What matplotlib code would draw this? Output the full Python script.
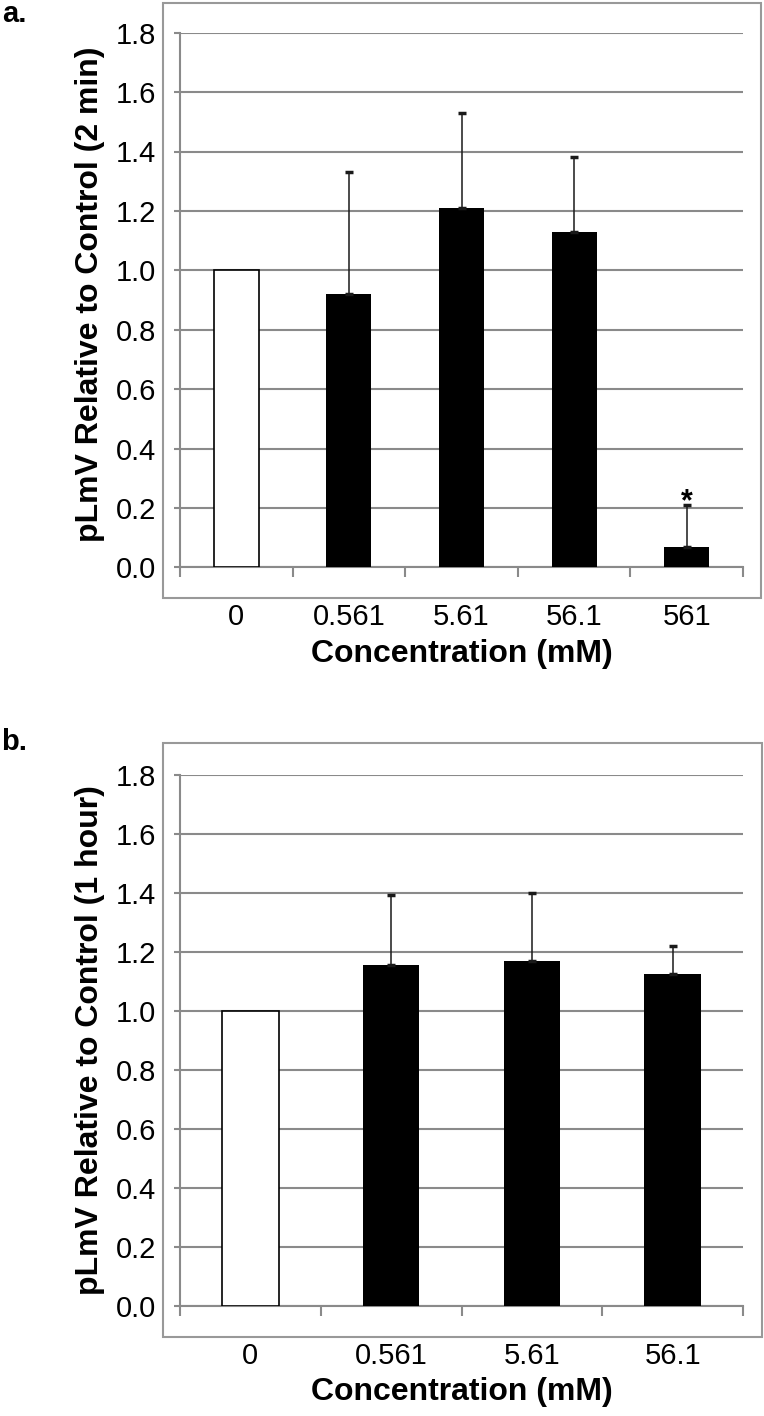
import matplotlib.pyplot as plt
from matplotlib.patches import Rectangle
import numpy as np

plt.rcParams['font.family'] = ['Liberation Sans', 'DejaVu Sans']

# panel a: 2 min exposure
conc_a = ['0', '0.561', '5.61', '56.1', '561']
mean_a = [1.0, 0.92, 1.21, 1.13, 0.07]
err_a = [0.0, 0.41, 0.32, 0.25, 0.14]
sig_a = [False, False, False, False, True]

# panel b: 1 hour exposure
conc_b = ['0', '0.561', '5.61', '56.1']
mean_b = [1.0, 1.155, 1.17, 1.125]
err_b = [0.0, 0.237, 0.23, 0.095]

yticks = [0.0, 0.2, 0.4, 0.6, 0.8, 1.0, 1.2, 1.4, 1.6, 1.8]

W, H = 764, 1416
fig = plt.figure(figsize=(W / 100, H / 100), dpi=100)
gray = '#8a8a8a'


def px_box(x0, y0, x1, y1):
    # pixel box (top-left origin) -> figure fraction rect
    return [x0 / W, 1 - y1 / H, (x1 - x0) / W, (y1 - y0) / H]


def draw_panel(rect, frame, cats, means, errs, ylabel, label_y=0.5, sig=None):
    fr = px_box(*frame)
    fig.patches.append(Rectangle((fr[0], fr[1]), fr[2], fr[3], transform=fig.transFigure,
                                 fill=False, edgecolor='#999999', linewidth=1.5))
    ax = fig.add_axes(px_box(*rect))
    x = np.arange(len(cats))
    colors = ['white'] + ['black'] * (len(cats) - 1)
    ax.bar(x, means, width=0.4, color=colors, edgecolor='black',
           linewidth=[1.2] + [0] * (len(cats) - 1), zorder=3)
    xe = x[1:]
    ax.errorbar(xe, np.array(means)[1:], yerr=[np.zeros(len(xe)), np.array(errs)[1:]],
                fmt='none', ecolor='#1a1a1a', elinewidth=1.1, capsize=3, capthick=2.5, zorder=4)
    if sig is not None:
        for i, s in enumerate(sig):
            if s:
                ax.annotate('*', (i, means[i] + errs[i]), xytext=(0, -4), textcoords='offset points',
                            ha='center', va='baseline', fontsize=22, fontweight='bold')
    ax.set_ylim(0, 1.8)
    ax.set_xlim(-0.5, len(cats) - 0.5)
    ax.set_yticks(yticks)
    ax.set_yticklabels(['%.1f' % v for v in yticks], fontsize=21)
    ax.yaxis.grid(True, color=gray, linewidth=1.5, zorder=0)
    ax.set_axisbelow(True)
    ax.tick_params(axis='y', length=4, width=1.5, color=gray, pad=13)
    ax.set_xticks(np.arange(len(cats) + 1) - 0.5)
    ax.set_xticklabels([])
    ax.tick_params(axis='x', which='major', length=7, width=1.5, color=gray, direction='out')
    ax.set_xticks(x, minor=True)
    ax.set_xticklabels(cats, minor=True, fontsize=21)
    ax.tick_params(axis='x', which='minor', length=0, pad=26)
    for s in ['top', 'right']:
        ax.spines[s].set_visible(False)
    for s in ['left', 'bottom']:
        ax.spines[s].set_color(gray)
        ax.spines[s].set_linewidth(1.5)
    ax.set_xlabel('Concentration (mM)', fontsize=23, fontweight='bold')
    ax.xaxis.set_label_coords(0.5, -0.135)
    ax.xaxis.label.set_va('top')
    ax.set_ylabel(ylabel, fontsize=23, fontweight='bold')
    ax.yaxis.set_label_coords(-0.16, label_y)
    ax.yaxis.label.set_va('center')
    return ax


draw_panel((180, 32.7, 743, 567.3), (163, 2.7, 761, 597.7), conc_a, mean_a, err_a,
           'pLmV Relative to Control (2 min)', label_y=0.51, sig=sig_a)
draw_panel((180, 774.7, 743, 1305.7), (163, 743.3, 762, 1336.7), conc_b, mean_b, err_b,
           'pLmV Relative to Control (1 hour)')

fig.text(2 / W, 1 - 22 / H, 'a.', fontsize=21, fontweight='bold', va='baseline', ha='left')
fig.text(1 / W, 1 - 750 / H, 'b.', fontsize=21, fontweight='bold', va='baseline', ha='left')

fig.savefig('out.png', dpi=100)
